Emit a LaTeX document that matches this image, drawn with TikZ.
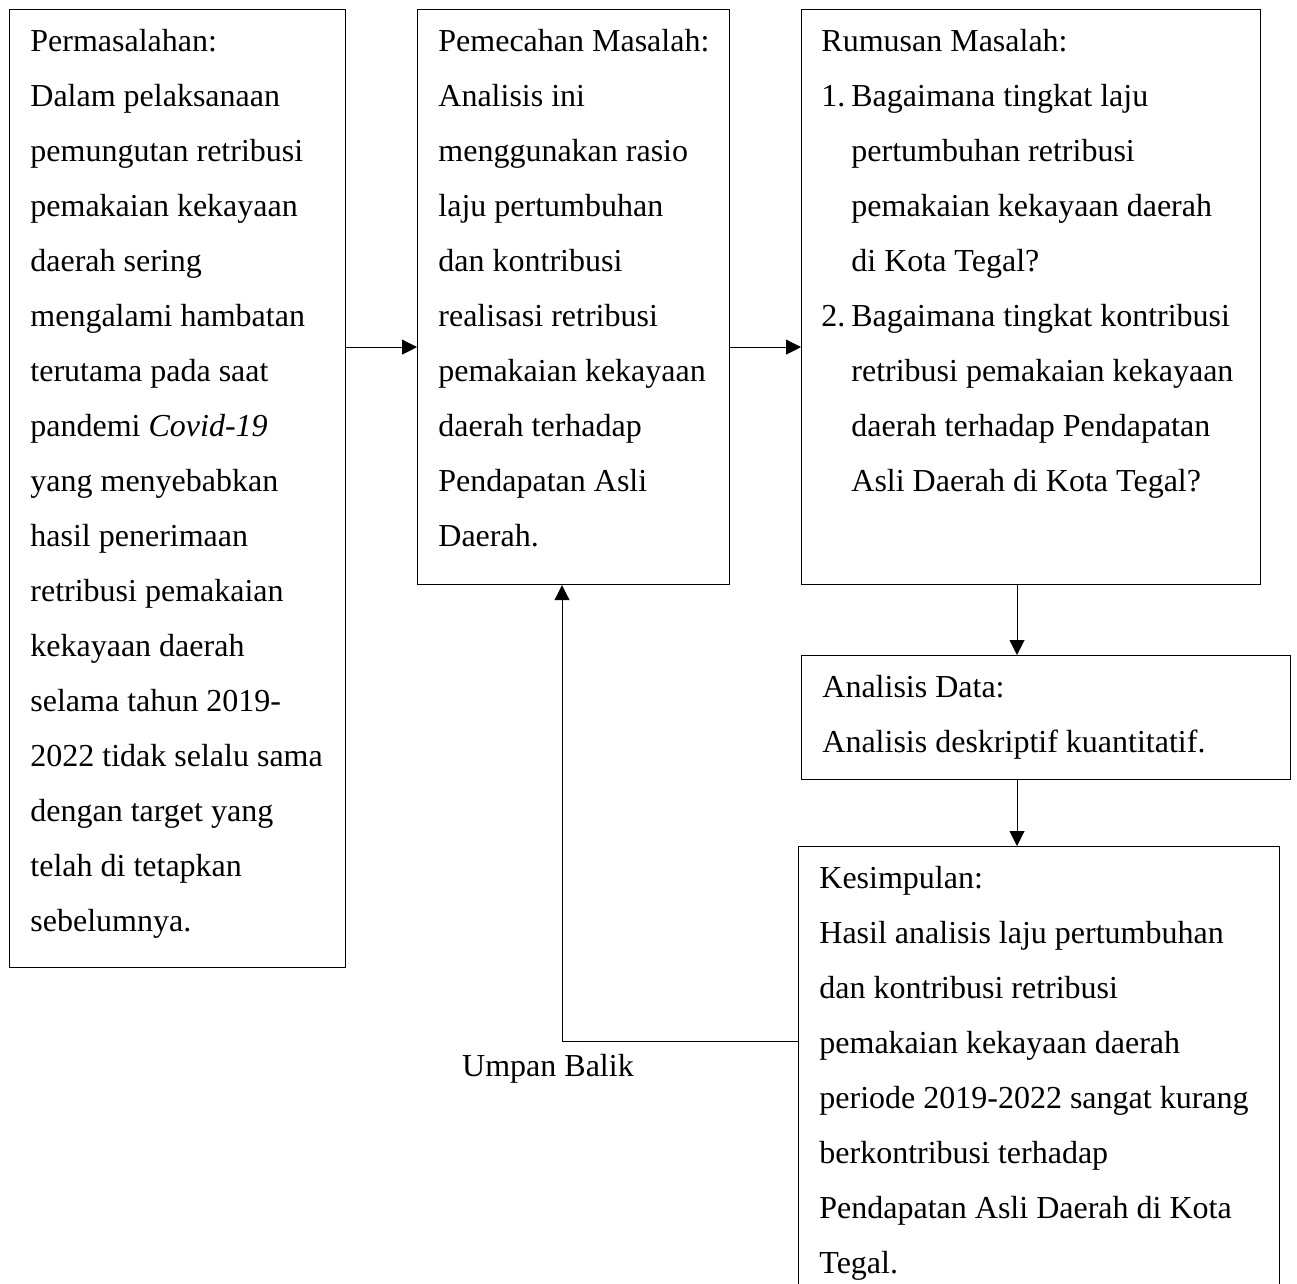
\documentclass[tikz,border=0pt]{standalone}
\usepackage{fontspec}
\setmainfont{Liberation Serif}
\usetikzlibrary{positioning,arrows.meta}

\begin{document}
\begin{tikzpicture}[x=0.5pt,y=-0.5pt,
  kotak/.style = {draw, line width=0.6pt, anchor=north west, inner sep=0pt},
  isi/.style = {anchor=north west, inner sep=0pt, align=left, font=\fontsize{16pt}{27.5pt}\selectfont},
  panah/.style = {-{Triangle[length=7.5pt,width=7.5pt]}, line width=0.5pt}]
\useasboundingbox (0,0) rectangle (1297,1284);

\node[kotak, minimum width=168pt, minimum height=478.75pt] (masalah) at (9,9) {};
\node[kotak, minimum width=156pt, minimum height=287.5pt] (pemecahan) at (417,9) {};
\node[kotak, minimum width=229.25pt, minimum height=287.5pt] (rumusan) at (801,9) {};
\node[kotak, minimum width=244.25pt, minimum height=61.75pt] (analisis) at (801,655) {};
\node[kotak, minimum width=240.25pt, minimum height=223pt] (kesimpulan) at (798,846) {};

\node[isi] (tmasalah) at ([xshift=10.5pt,yshift=-2pt]masalah.north west) {\strut Permasalahan:\\
Dalam pelaksanaan\\
pemungutan retribusi\\
pemakaian kekayaan\\
daerah sering\\
mengalami hambatan\\
terutama pada saat\\
pandemi \textit{Covid-19}\\
yang menyebabkan\\
hasil penerimaan\\
retribusi pemakaian\\
kekayaan daerah\\
selama tahun 2019-\\
2022 tidak selalu sama\\
dengan target yang\\
telah di tetapkan\\
sebelumnya.};

\node[isi] (tpemecahan) at ([xshift=10.5pt,yshift=-2pt]pemecahan.north west) {\strut Pemecahan Masalah:\\
Analisis ini\\
menggunakan rasio\\
laju pertumbuhan\\
dan kontribusi\\
realisasi retribusi\\
pemakaian kekayaan\\
daerah terhadap\\
Pendapatan Asli\\
Daerah.};

\node[isi] (trumusan) at ([xshift=10pt,yshift=-2pt]rumusan.north west) {\strut Rumusan Masalah:\\
\makebox[15pt][l]{1.}Bagaimana tingkat laju\\
\hspace*{15pt}pertumbuhan retribusi\\
\hspace*{15pt}pemakaian kekayaan daerah\\
\hspace*{15pt}di Kota Tegal?\\
\makebox[15pt][l]{2.}Bagaimana tingkat kontribusi\\
\hspace*{15pt}retribusi pemakaian kekayaan\\
\hspace*{15pt}daerah terhadap Pendapatan\\
\hspace*{15pt}Asli Daerah di Kota Tegal?};

\node[isi] (tanalisis) at ([xshift=10.5pt,yshift=-2pt]analisis.north west) {\strut Analisis Data:\\
Analisis deskriptif kuantitatif.};

\node[isi] (tkesimpulan) at ([xshift=10.5pt,yshift=-2pt]kesimpulan.north west) {\strut Kesimpulan:\\
Hasil analisis laju pertumbuhan\\
dan kontribusi retribusi\\
pemakaian kekayaan daerah\\
periode 2019-2022 sangat kurang\\
berkontribusi terhadap\\
Pendapatan Asli Daerah di Kota\\
Tegal.};

\node[font=\fontsize{16pt}{27.5pt}\selectfont] (umpan) at (548,1069) {Umpan Balik};

\coordinate (kanan) at ([yshift=-25pt]pemecahan.west);
\coordinate (turun) at (1017,0);
\coordinate (balik) at (562,1041);

\draw[panah] (masalah.east |- kanan) -- (kanan);
\draw[panah] ([yshift=-25pt]pemecahan.east) -- ([yshift=-25pt]rumusan.west);
\draw[panah] (rumusan.south -| turun) -- (analisis.north -| turun);
\draw[panah] (analisis.south -| turun) -- (kesimpulan.north -| turun);
\draw[panah] (kesimpulan.west |- balik) -- (balik) -- (balik |- pemecahan.south);
\end{tikzpicture}
\end{document}
